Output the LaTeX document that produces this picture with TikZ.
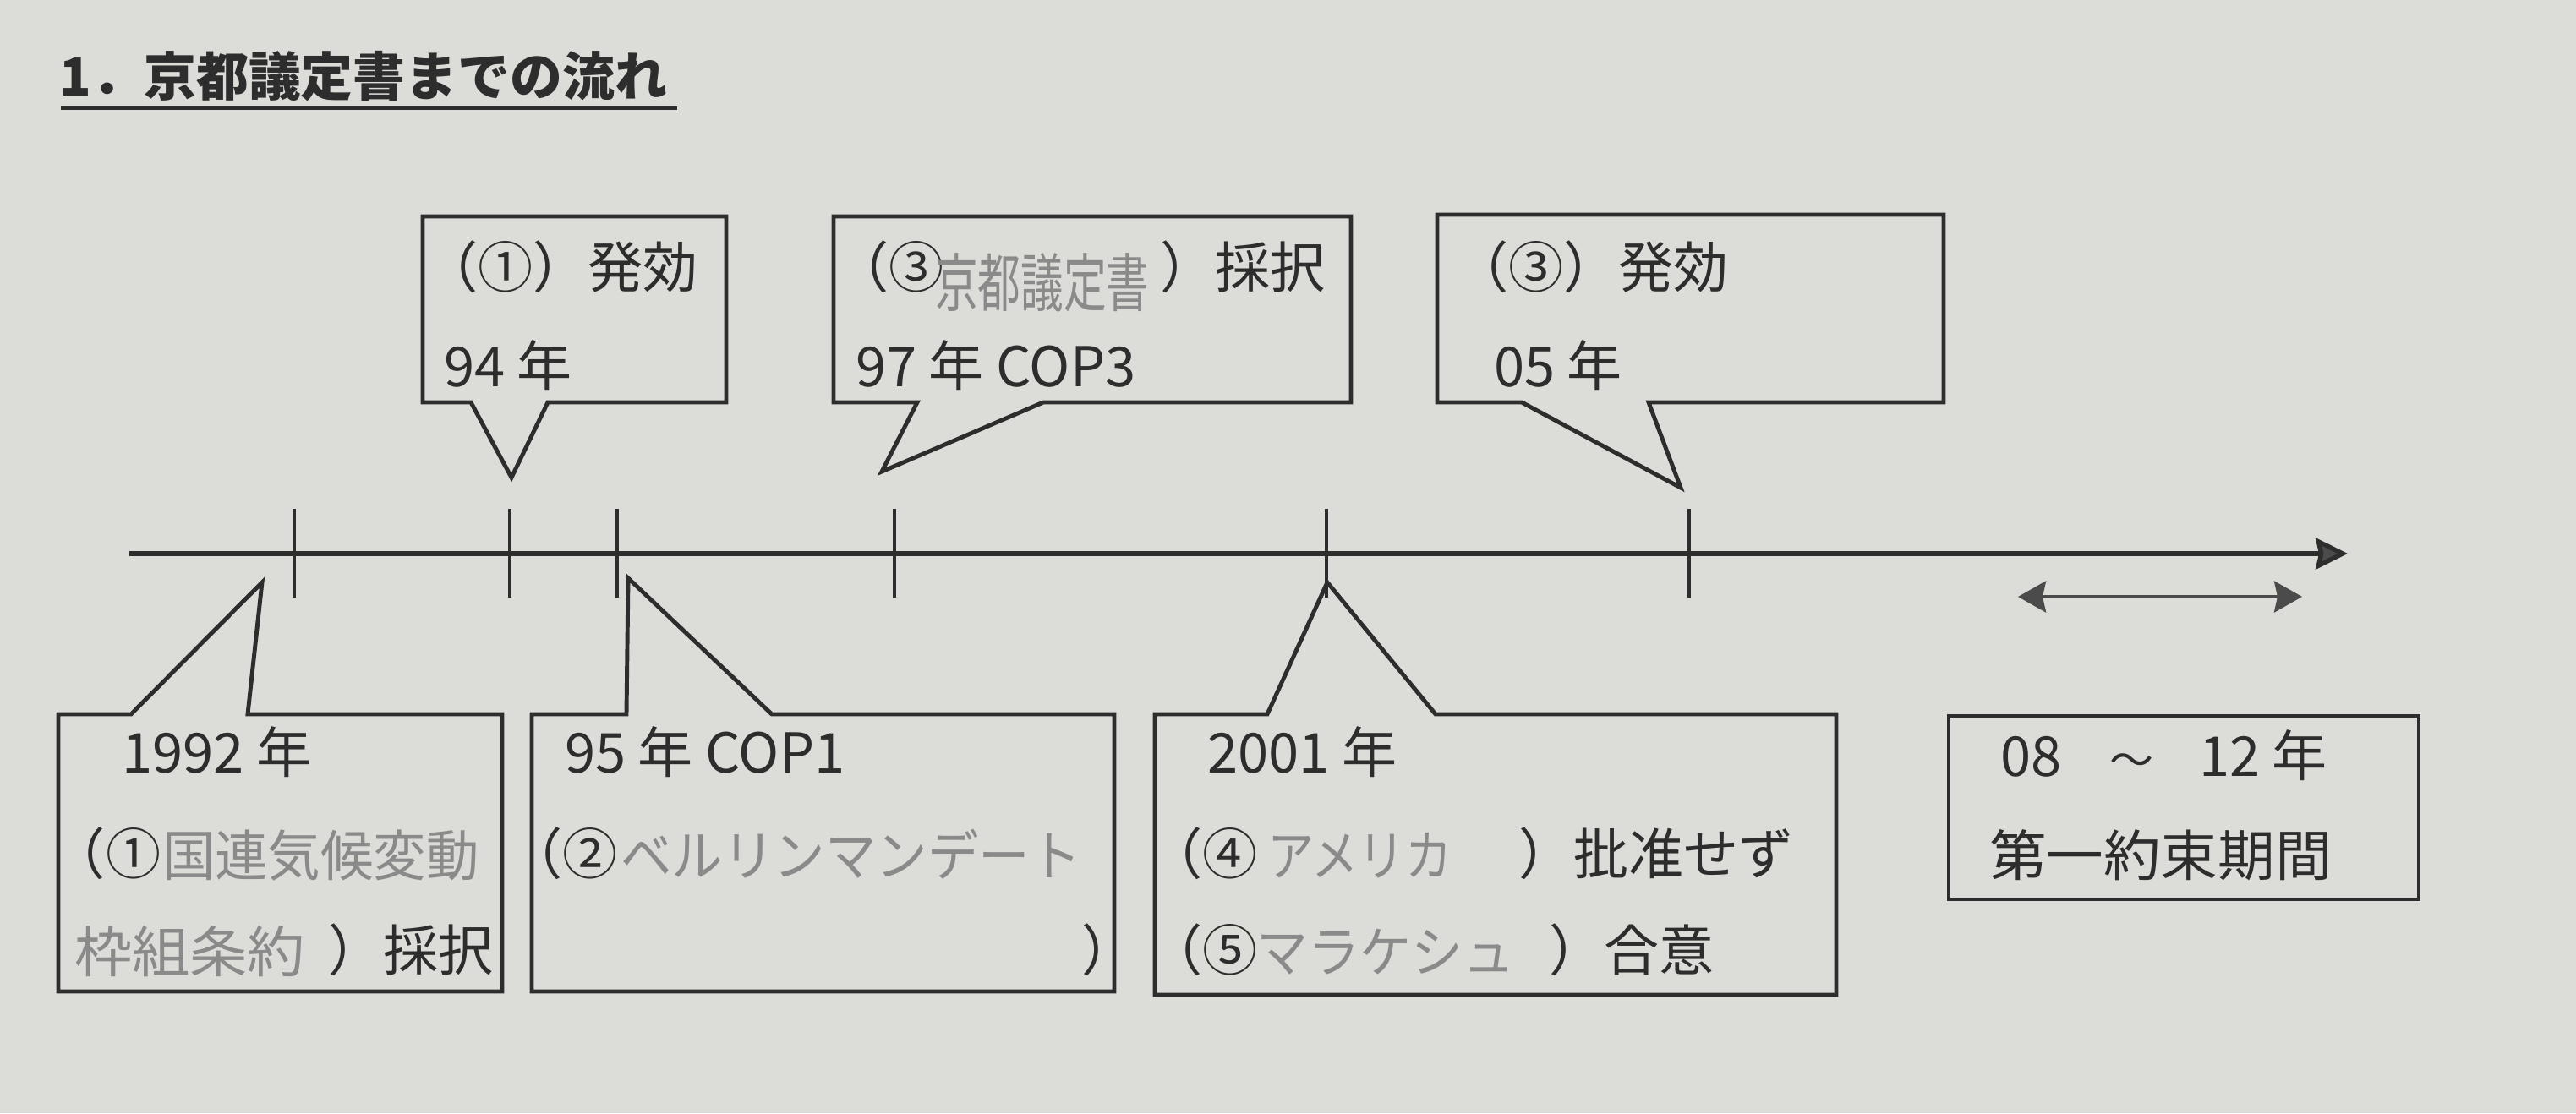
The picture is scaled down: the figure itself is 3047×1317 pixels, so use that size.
\documentclass[tikz,border=0pt]{standalone}
\usepackage{fontspec}
\setmainfont{Noto Sans CJK JP}
\newfontfamily\jp{Noto Sans CJK JP}
\usetikzlibrary{arrows.meta}
\definecolor{paper}{RGB}{220,220,217}
\definecolor{ink}{RGB}{45,45,45}
\definecolor{pencil}{RGB}{138,138,138}
\definecolor{headgray}{RGB}{75,75,75}
\tikzset{
  txt/.style={anchor=base west, inner sep=0pt, outer sep=0pt, text=ink,
    font=\jp\fontsize{18.5pt}{22pt}\selectfont},
  hand/.style={anchor=base west, inner sep=0pt, outer sep=0pt, text=pencil,
    font=\jp\fontsize{18.5pt}{22pt}\selectfont},
  callout/.style={draw=ink, line width=1.4pt, line join=miter},
  tickmark/.style={draw=ink, line width=1.4pt},
  axis/.style={draw=ink, line width=1.5pt,
    -{Stealth[length=0.38cm, width=0.37cm, inset=0.04cm, fill=headgray]}},
  period/.style={draw=headgray, line width=1.1pt,
    {Stealth[length=0.33cm, width=0.37cm, inset=0.04cm, fill=headgray]}-{Stealth[length=0.33cm, width=0.37cm, inset=0.04cm, fill=headgray]}},
}
\begin{document}
\begin{tikzpicture}[x=0.01cm, y=-0.01cm]
\fill[paper] (0,0) rectangle (3047,1317);
\useasboundingbox (0,0) rectangle (3047,1317);

% title
\node[anchor=base west, inner sep=0pt, text=ink,
  font=\jp\bfseries\fontsize{17.6pt}{20pt}\selectfont] (title) at (70,113) {1．京都議定書までの流れ};
\draw[ink, line width=1.1pt] (72,128) -- (801,128);

% timeline
\coordinate (tl0) at (153,655);
\coordinate (tl1) at (2777,655);
\draw[axis] (tl0) -- (tl1);
\foreach \t/\x in {t1/348, t2/603, t3/730, t4/1058, t5/1569, t6/1998} {
  \coordinate (\t top) at (\x,602);
  \coordinate (\t bot) at (\x,707);
  \draw[tickmark] (\t top) -- (\t bot);
}

% commitment period arrow
\coordinate (pa) at (2387,706);
\coordinate (pb) at (2723,706);
\draw[period] (pa) -- (pb);

% top callouts
\draw[callout] (500,256) -- (859,256) -- (859,476) -- (648,476) -- (605,565) -- (557,476) -- (500,476) -- cycle;
\draw[callout] (986,256) -- (1598,256) -- (1598,476) -- (1234,476) -- (1043,558) -- (1085,476) -- (986,476) -- cycle;
\draw[callout] (1700,254) -- (2299,254) -- (2299,476) -- (1950,476) -- (1988,577) -- (1800,476) -- (1700,476) -- cycle;

% bottom callouts
\draw[callout] (69,845) -- (155,845) -- (310,689) -- (293,845) -- (594,845) -- (594,1173) -- (69,1173) -- cycle;
\draw[callout] (629,845) -- (741,845) -- (743,684) -- (913,845) -- (1318,845) -- (1318,1173) -- (629,1173) -- cycle;
\draw[callout] (1366,845) -- (1499,845) -- (1570,689) -- (1698,845) -- (2172,845) -- (2172,1177) -- (1366,1177) -- cycle;
\draw[callout] (2305,847) rectangle (2861,1064);

% box A
\node[txt] (a1) at (500,340) {（①）発効};
\node[txt] (a2) at (525,457) {94 年};
% box B
\node[txt] (b1) at (986,340) {（③};
\node[hand] (b1h) at (1106,362) {\scalebox{0.78}[1.15]{京都議定書}};
\node[txt] (b1b) at (1372,340) {）採択};
\node[txt] (b2) at (1012,457) {97 年 COP3};
% box C
\node[txt] (c1) at (1719,340) {（③）発効};
\node[txt] (c2) at (1767,457) {05 年};
% box D
\node[txt] (d1) at (144,914) {1992 年};
\node[txt] (d2) at (60,1034) {（①};
\node[hand] (d2h) at (192,1036) {\scalebox{0.96}[1]{国連気候変動}};
\node[hand] (d3h) at (88,1150) {\scalebox{1.05}[1]{枠組条約}};
\node[txt] (d3) at (388,1148) {）採択};
% box E
\node[txt] (e1) at (668,914) {95 年 COP1};
\node[txt] (e2) at (600,1034) {（②};
\node[hand] (e2h) at (734,1036) {\scalebox{0.93}[1]{ベルリンマンデート}};
\node[txt] (e3) at (1279,1148) {）};
% box F
\node[txt] (f2) at (1357,1034) {（④};
\node[hand] (f2h) at (1499,1036) {\scalebox{0.85}[1]{アメリカ}};
\node[txt] (f2b) at (1796,1034) {）批准せず};
\node[txt] (f1) at (1428,914) {2001 年};
\node[txt] (f3) at (1357,1148) {（⑤};
\node[hand] (f3h) at (1486,1150) {\scalebox{0.94}[1]{マラケシュ}};
\node[txt] (f3b) at (1832,1148) {）合意};
% box G
\node[txt] (g1) at (2366,918) {08};
\node[txt, anchor=base] (g1t) at (2522,918) {\scalebox{0.8}{～}};
\node[txt] (g1b) at (2601,918) {12 年};
\node[txt] (g2) at (2353,1036) {\scalebox{1.04}[1]{第一約束期間}};
\end{tikzpicture}
\end{document}
